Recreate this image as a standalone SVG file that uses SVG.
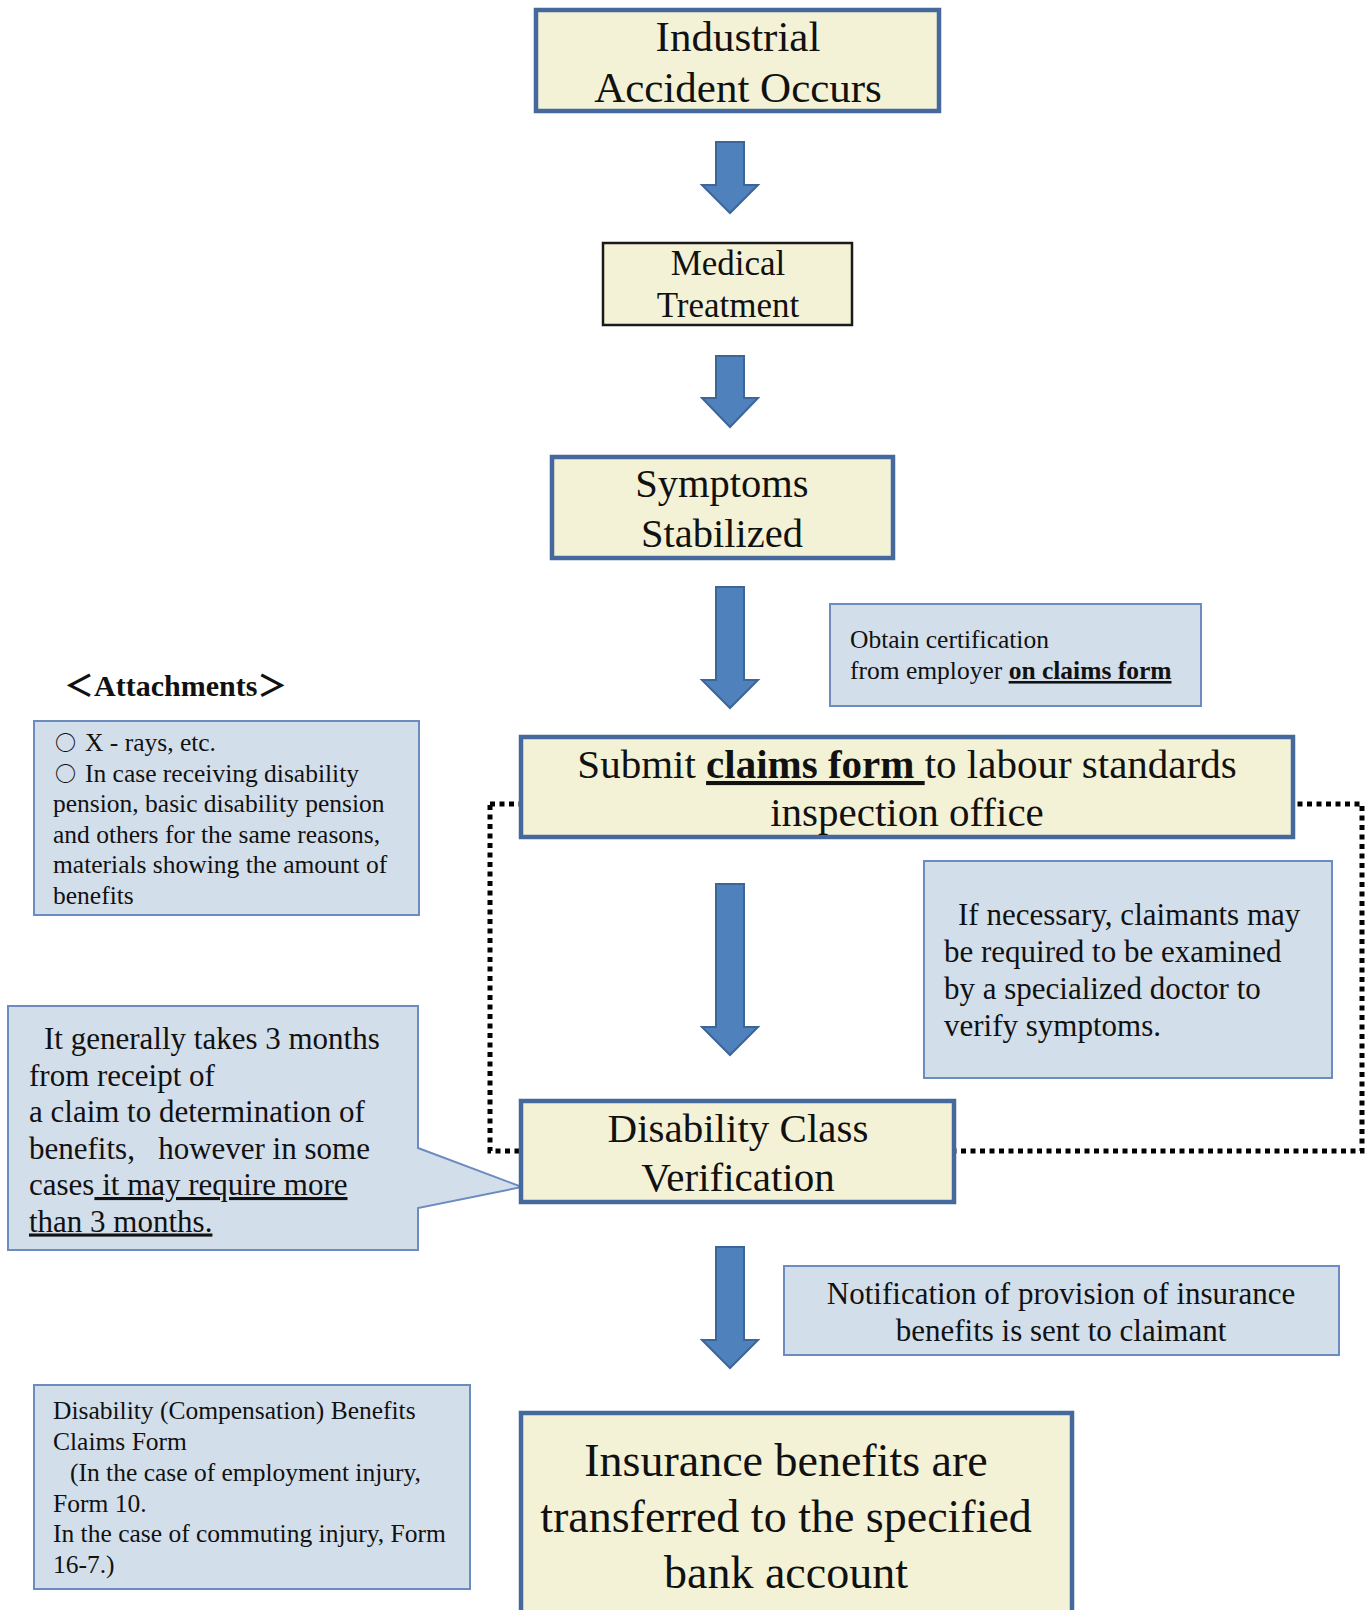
<svg xmlns="http://www.w3.org/2000/svg" width="1371" height="1610" viewBox="0 0 1371 1610">
  <style>
    .step { fill: #f4f2d6; stroke: #45699c; stroke-width: 4.5; }
    .plain { fill: #f4f2d6; stroke: #1a1a1a; stroke-width: 2.5; }
    .note { fill: #d3deeb; stroke: #6c8cc0; stroke-width: 2; }
    .arrow { fill: #4f81bd; stroke: #3d6698; stroke-width: 2; }
    .frame { fill: none; stroke: #000; stroke-width: 5; stroke-dasharray: 5 4.5; }
    text { font-family: "Liberation Serif", "Times New Roman", "Noto Sans CJK JP", serif; fill: #111; }
    .c { text-anchor: middle; }
    .t43 { font-size: 43px; }
    .t41 { font-size: 41px; }
    .t40 { font-size: 40.5px; }
    .t35 { font-size: 35px; }
    .t46 { font-size: 46px; }
    .t31 { font-size: 31px; }
    .t25 { font-size: 25.5px; }
    .b { font-weight: bold; }
    .u { text-decoration: underline; }
    .mark { font-family: "Noto Sans CJK JP", sans-serif; font-size: 21px; font-weight: bold; }
  </style>

  <!-- dotted frame around the inspection stage (drawn behind the boxes) -->
  <rect id="inspection-frame" class="frame" x="490" y="804" width="872" height="347"/>

  <!-- flow arrows -->
  <g id="connectors">
    <polygon class="arrow" points="716,142 744,142 744,185 758,185 730,213 702,185 716,185"/>
    <polygon class="arrow" points="716,356 744,356 744,398 758,398 730,427 702,398 716,398"/>
    <polygon class="arrow" points="716,587 744,587 744,680 758,680 730,708 702,680 716,680"/>
    <polygon class="arrow" points="716,884 744,884 744,1027 758,1027 730,1055 702,1027 716,1027"/>
    <polygon class="arrow" points="716,1247 744,1247 744,1340 758,1340 730,1368 702,1340 716,1340"/>
  </g>

  <g id="accident">
    <rect class="step" x="536" y="10" width="403" height="101"/>
    <text class="c t43" x="738" y="51">Industrial</text>
    <text class="c t43" x="738" y="102">Accident Occurs</text>
  </g>

  <g id="treatment">
    <rect class="plain" x="603" y="243" width="249" height="82"/>
    <text class="c t35" x="728" y="275">Medical</text>
    <text class="c t35" x="728" y="317">Treatment</text>
  </g>

  <g id="stabilized">
    <rect class="step" x="552" y="457" width="341" height="101"/>
    <text class="c t40" x="722" y="497">Symptoms</text>
    <text class="c t40" x="722" y="547">Stabilized</text>
  </g>

  <g id="certification-note">
    <rect class="note" x="830" y="604" width="371" height="102"/>
    <text class="t25" x="850" y="648">Obtain certification</text>
    <text class="t25" x="850" y="679" xml:space="preserve">from employer <tspan class="b u">on claims form</tspan></text>
  </g>

  <g id="attachments-title">
    <text class="b" x="64" y="696" style="font-size:30px">＜Attachments＞</text>
  </g>

  <g id="attachments">
    <rect class="note" x="34" y="721" width="385" height="194"/>
    <text class="mark" x="55" y="750">○</text>
    <text class="t25" x="85" y="751">X - rays, etc.</text>
    <text class="mark" x="55" y="780.5">○</text>
    <text class="t25" x="85" y="781.5">In case receiving disability</text>
    <text class="t25" x="53" y="812">pension, basic disability pension</text>
    <text class="t25" x="53" y="842.5">and others for the same reasons,</text>
    <text class="t25" x="53" y="873">materials showing the amount of</text>
    <text class="t25" x="53" y="903.5">benefits</text>
  </g>

  <g id="submit">
    <rect class="step" x="521" y="737" width="772" height="100"/>
    <text class="c t41" x="907" y="778" xml:space="preserve">Submit <tspan class="b u">claims form </tspan>to labour standards</text>
    <text class="c t41" x="907" y="826">inspection office</text>
  </g>

  <g id="examination-note">
    <rect class="note" x="924" y="861" width="408" height="217"/>
    <text class="t31" x="958" y="925">If necessary, claimants may</text>
    <text class="t31" x="944" y="962">be required to be examined</text>
    <text class="t31" x="944" y="999">by a specialized doctor to</text>
    <text class="t31" x="944" y="1036">verify symptoms.</text>
  </g>

  <g id="duration-callout">
    <path class="note" d="M8,1006 H418 V1148 L522,1187 L418,1208 V1250 H8 Z"/>
    <text class="t31" x="44" y="1049">It generally takes 3 months</text>
    <text class="t31" x="29" y="1085.5">from receipt of</text>
    <text class="t31" x="29" y="1122">a claim to determination of</text>
    <text class="t31" x="29" y="1158.5" xml:space="preserve">benefits,   however in some</text>
    <text class="t31" x="29" y="1195" xml:space="preserve">cases<tspan class="u"> it may require more</tspan></text>
    <text class="t31 u" x="29" y="1231.5">than 3 months.</text>
  </g>

  <g id="verification">
    <rect class="step" x="521" y="1101" width="433" height="101"/>
    <text class="c t41" x="738" y="1142">Disability Class</text>
    <text class="c t41" x="738" y="1191">Verification</text>
  </g>

  <g id="notification-note">
    <rect class="note" x="784" y="1266" width="555" height="89"/>
    <text class="c t31" x="1061" y="1304">Notification of provision of insurance</text>
    <text class="c t31" x="1061" y="1341">benefits is sent to claimant</text>
  </g>

  <g id="claims-form-note">
    <rect class="note" x="34" y="1385" width="436" height="204"/>
    <text class="t25" x="53" y="1419">Disability (Compensation) Benefits</text>
    <text class="t25" x="53" y="1450">Claims Form</text>
    <text class="t25" x="70" y="1481">(In the case of employment injury,</text>
    <text class="t25" x="53" y="1512">Form 10.</text>
    <text class="t25" x="53" y="1542">In the case of commuting injury, Form</text>
    <text class="t25" x="53" y="1573">16-7.)</text>
  </g>

  <g id="payment">
    <rect class="step" x="521" y="1413" width="551" height="215"/>
    <text class="c t46" x="786" y="1476">Insurance benefits are</text>
    <text class="c t46" x="786" y="1532">transferred to the specified</text>
    <text class="c t46" x="786" y="1588">bank account</text>
  </g>
</svg>
